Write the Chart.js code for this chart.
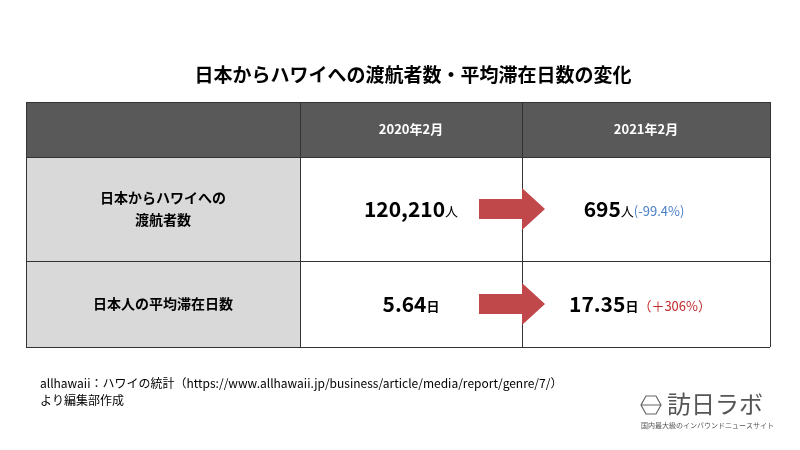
<!DOCTYPE html>
<html>
<head>
<meta charset="utf-8">
<script src="https://cdn.jsdelivr.net/npm/chart.js@4"></script>
<style>
  body { margin: 0; background: #fff; }
  #wrap { width: 800px; height: 450px; }
</style>
</head>
<body>
<div id="wrap"><canvas id="table__canvas"></canvas></div>
<script>
const TITLE = "日本からハワイへの渡航者数・平均滞在日数の変化";
const periods = ["2020年2月", "2021年2月"];
const categories = [["日本からハワイへの", "渡航者数"], ["日本人の平均滞在日数"]];
const values2020 = ["120,210", "5.64"];
const values2021 = ["695", "17.35"];
const units = ["人", "日"];
const changes = ["(-99.4%)", "（＋306%）"];
const changeColors = ["#4a7fc9", "#c0282a"];
const sourceLines = [
  "allhawaii：ハワイの統計（https://www.allhawaii.jp/business/article/media/report/genre/7/）",
  "より編集部作成",
];

// table grid in the chart's own coordinates (x: 0-800, y: 0-450 from the top)
const colEdges = [26, 300, 522, 770];
const rowEdges = [102, 157, 261, 347];

const FONT = "'Noto Sans CJK JP', 'Liberation Sans', sans-serif";

const tablePlugin = {
  id: "table",
  afterDraw(chart) {
    const ctx = chart.ctx;
    const xs = chart.scales.x;
    const ys = chart.scales.y;
    const X = (v) => xs.getPixelForValue(v);
    const Y = (v) => ys.getPixelForValue(v);

    ctx.save();
    ctx.textBaseline = "middle";

    // title
    ctx.fillStyle = "#000";
    ctx.font = "bold 19px " + FONT;
    ctx.textAlign = "center";
    ctx.fillText(TITLE, X(413), Y(75));

    // header + first column fills
    ctx.fillStyle = "#595959";
    ctx.fillRect(X(colEdges[0]), Y(rowEdges[0]), X(colEdges[3]) - X(colEdges[0]), Y(rowEdges[1]) - Y(rowEdges[0]));
    ctx.fillStyle = "#d9d9d9";
    ctx.fillRect(X(colEdges[0]), Y(rowEdges[1]), X(colEdges[1]) - X(colEdges[0]), Y(rowEdges[3]) - Y(rowEdges[1]));

    // grid lines
    ctx.strokeStyle = "#333";
    ctx.lineWidth = 1;
    colEdges.forEach((c) => {
      ctx.beginPath();
      ctx.moveTo(X(c) + 0.5, Y(rowEdges[0]));
      ctx.lineTo(X(c) + 0.5, Y(rowEdges[3]));
      ctx.stroke();
    });
    rowEdges.forEach((r) => {
      ctx.beginPath();
      ctx.moveTo(X(colEdges[0]), Y(r) + 0.5);
      ctx.lineTo(X(colEdges[3]), Y(r) + 0.5);
      ctx.stroke();
    });

    // header text
    ctx.fillStyle = "#fff";
    ctx.font = "bold 13px " + FONT;
    periods.forEach((p, i) => {
      ctx.fillText(p, X((colEdges[i + 1] + colEdges[i + 2]) / 2), Y((rowEdges[0] + rowEdges[1]) / 2));
    });

    categories.forEach((lines, i) => {
      const cy = (rowEdges[i + 1] + rowEdges[i + 2]) / 2;
      // row label
      ctx.fillStyle = "#000";
      ctx.textAlign = "center";
      ctx.font = "bold 14px " + FONT;
      lines.forEach((ln, k) => {
        ctx.fillText(ln, X((colEdges[0] + colEdges[1]) / 2), Y(cy + (k - (lines.length - 1) / 2) * 22));
      });

      // arrow
      const ay = Y(cy);
      ctx.fillStyle = "#c0474a";
      ctx.beginPath();
      ctx.moveTo(X(479), ay - 10);
      ctx.lineTo(X(522), ay - 10);
      ctx.lineTo(X(522), ay - 21);
      ctx.lineTo(X(545), ay);
      ctx.lineTo(X(522), ay + 21);
      ctx.lineTo(X(522), ay + 10);
      ctx.lineTo(X(479), ay + 10);
      ctx.closePath();
      ctx.fill();

      // 2020 value
      drawPieces(ctx, X((colEdges[1] + colEdges[2]) / 2), ay, [
        [values2020[i], "bold 21px " + FONT, "#000"],
        [units[i], (i === 0 ? "" : "bold ") + "13px " + FONT, "#000"],
      ]);
      // 2021 value
      drawPieces(ctx, X(i === 0 ? 634 : 640), ay, [
        [values2021[i], "bold 21px " + FONT, "#000"],
        [units[i], (i === 0 ? "" : "bold ") + "13px " + FONT, "#000"],
        [changes[i], "13px " + FONT, changeColors[i]],
      ]);
    });

    // source
    ctx.textAlign = "left";
    ctx.fillStyle = "#000";
    ctx.font = "12px " + FONT;
    sourceLines.forEach((s, k) => ctx.fillText(s, X(40), Y(383 + k * 17)));

    // logo
    ctx.strokeStyle = "#666";
    ctx.lineWidth = 1.2;
    const hx = X(651), hy = Y(405);
    ctx.beginPath();
    ctx.moveTo(hx - 5, hy - 9); ctx.lineTo(hx + 5, hy - 9); ctx.lineTo(hx + 10, hy);
    ctx.lineTo(hx + 5, hy + 9); ctx.lineTo(hx - 5, hy + 9); ctx.lineTo(hx - 10, hy);
    ctx.closePath();
    ctx.moveTo(hx - 10, hy); ctx.lineTo(hx + 10, hy);
    ctx.stroke();
    ctx.fillStyle = "#555";
    ctx.font = "24px " + FONT;
    ctx.fillText("訪日ラボ", X(667), Y(404));
    ctx.font = "7px " + FONT;
    ctx.fillText("国内最大級のインバウンドニュースサイト", X(641), Y(425));
    ctx.restore();
  },
};

function drawPieces(ctx, cx, cy, pieces) {
  let total = 0;
  pieces.forEach((p) => { ctx.font = p[1]; total += ctx.measureText(p[0]).width; });
  let x = cx - total / 2;
  ctx.textAlign = "left";
  pieces.forEach((p) => {
    ctx.font = p[1];
    ctx.fillStyle = p[2];
    const big = p[1].indexOf("21px") >= 0;
    ctx.fillText(p[0], x, big ? cy : cy + 2);
    x += ctx.measureText(p[0]).width;
  });
}

new Chart(document.getElementById("table__canvas").getContext("2d"), {
  type: "scatter",
  data: { datasets: [{ data: [] }] },
  options: {
    responsive: true,
    maintainAspectRatio: false,
    animation: false,
    layout: { padding: 0 },
    plugins: { legend: { display: false }, tooltip: { enabled: false } },
    scales: {
      x: { type: "linear", min: 0, max: 800, display: false },
      y: { type: "linear", min: 0, max: 450, reverse: true, display: false },
    },
  },
  plugins: [tablePlugin],
});
</script>
</body>
</html>
